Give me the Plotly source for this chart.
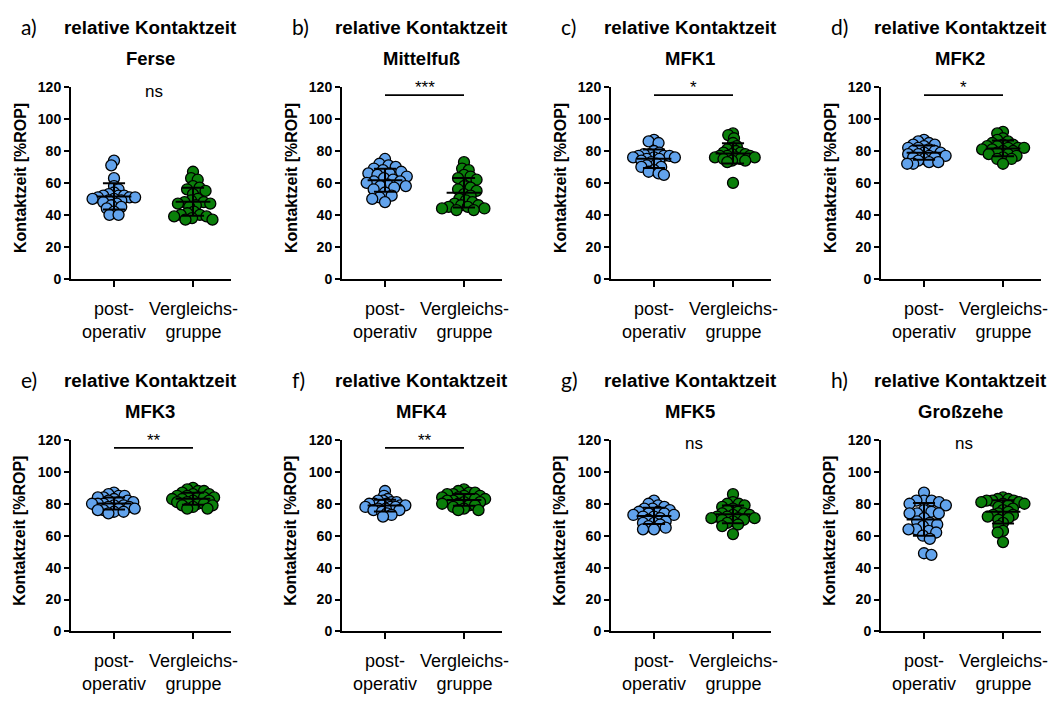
import numpy as np
import plotly.graph_objects as go

# ---------------- data ----------------
groups = ["post-<br>operativ", "Vergleichs-<br>gruppe"]
panel_letters = ["a)", "b)", "c)", "d)", "e)", "f)", "g)", "h)"]
panel_regions = ["Ferse", "Mittelfuß", "MFK1", "MFK2", "MFK3", "MFK4", "MFK5", "Großzehe"]
significance = ["ns", "***", "*", "*", "**", "**", "ns", "ns"]
y_ticks = [0, 20, 40, 60, 80, 100, 120]

ferse_post = [74, 71, 63, 58, 56, 54, 53, 52, 52, 52, 51, 51, 51, 50, 50, 49, 49, 48, 47, 46, 45, 44, 42, 40, 40]
ferse_vg = [67, 63, 62, 58, 57, 56, 55, 53, 50, 49, 48, 48, 47, 47, 46, 45, 42, 41, 40, 40, 39, 39, 38, 37, 37]
mittelfuss_post = [75, 72, 71, 70, 69, 68, 67, 66, 66, 65, 64, 63, 62, 61, 61, 60, 59, 58, 58, 57, 56, 54, 52, 51, 50, 48]
mittelfuss_vg = [73, 69, 68, 65, 64, 63, 62, 58, 57, 56, 55, 53, 52, 50, 49, 48, 47, 46, 46, 45, 45, 44, 44, 43, 43]
mfk1_post = [87, 86, 85, 80, 79, 78, 78, 77, 77, 77, 76, 76, 76, 75, 75, 74, 73, 72, 71, 70, 70, 68, 67, 66, 65]
mfk1_vg = [91, 90, 88, 85, 83, 82, 81, 80, 79, 79, 78, 78, 77, 77, 77, 76, 76, 76, 75, 75, 74, 74, 73, 60]
mfk2_post = [87, 86, 85, 84, 84, 83, 82, 82, 81, 80, 80, 79, 79, 78, 78, 77, 77, 76, 76, 75, 74, 73, 73, 72, 72]
mfk2_vg = [92, 91, 88, 87, 86, 85, 84, 84, 83, 83, 82, 82, 82, 81, 81, 80, 80, 79, 78, 78, 77, 76, 75, 75, 72]
mfk3_post = [87, 86, 85, 85, 84, 84, 83, 82, 82, 81, 81, 80, 80, 80, 79, 79, 78, 78, 77, 77, 76, 76, 75, 75, 74]
mfk3_vg = [90, 89, 88, 88, 87, 86, 86, 85, 85, 84, 84, 84, 83, 83, 82, 82, 81, 81, 80, 80, 79, 79, 78, 77, 77]
mfk4_post = [88, 85, 83, 82, 82, 81, 81, 80, 80, 80, 79, 79, 79, 78, 78, 78, 77, 77, 76, 76, 75, 74, 73, 72]
mfk4_vg = [89, 88, 87, 87, 86, 86, 85, 85, 84, 84, 83, 83, 83, 82, 82, 81, 81, 80, 80, 79, 79, 78, 77, 76, 76]
mfk5_post = [82, 80, 79, 78, 77, 77, 76, 75, 75, 74, 74, 73, 73, 72, 72, 71, 70, 69, 68, 68, 67, 66, 65, 64, 64]
mfk5_vg = [86, 81, 80, 80, 79, 78, 77, 76, 75, 74, 74, 73, 73, 72, 72, 71, 71, 71, 70, 70, 69, 68, 67, 66, 61]
grosszehe_post = [87, 82, 82, 82, 81, 80, 79, 76, 75, 74, 74, 74, 71, 69, 68, 67, 66, 64, 64, 63, 62, 60, 58, 49, 48]
grosszehe_vg = [84, 83, 83, 82, 82, 82, 81, 81, 80, 80, 79, 78, 77, 76, 75, 74, 73, 73, 72, 72, 71, 70, 68, 66, 63, 62, 56]

series_post = [ferse_post, mittelfuss_post, mfk1_post, mfk2_post, mfk3_post, mfk4_post, mfk5_post, grosszehe_post]
series_vg = [ferse_vg, mittelfuss_vg, mfk1_vg, mfk2_vg, mfk3_vg, mfk4_vg, mfk5_vg, grosszehe_vg]

# ---------------- layout geometry ----------------
W, H = 1061, 702
col_x0 = [71, 342, 611, 881]      # pixel x of each y-axis line
axis_len = 160
cat_offset = 43                   # px from y-axis to first category
cat_step = 79                     # px between categories
row_y0 = [277, 638]               # pixel y of value 0
row_y120 = [81, 442]              # pixel y of value 120
px_per_unit = (277 - 81) / 120.0
max_half_width = 22.0             # px, swarm half width

BLUE = "#62A3EC"
GREEN = "#0A7F0A"
FONT = "Liberation Sans, Arial, sans-serif"


def swarm_once(ys, d):
    order = np.argsort(-ys, kind="stable")
    placed = []
    xs = np.zeros(len(ys))
    for k, i in enumerate(order):
        y = ys[i]
        cands = [0.0]
        for (px, py) in placed:
            dy = abs(py - y)
            if dy < d:
                dx = np.sqrt(d * d - dy * dy)
                cands += [px + dx, px - dx]
        sgn = 1 if k % 2 else -1
        cands = sorted(cands, key=lambda c: (round(abs(c), 6), sgn * c))
        for c in cands:
            if all((c - px) ** 2 + (y - py) ** 2 >= d * d - 1e-6 for px, py in placed):
                xs[i] = c
                break
        placed.append((xs[i], y))
    return xs


def swarm(vals):
    ys = np.asarray(vals, dtype=float) * px_per_unit
    d = 9.0
    xs = swarm_once(ys, d)
    while np.max(np.abs(xs)) > max_half_width and d > 3:
        d -= 0.2
        xs = swarm_once(ys, d)
    return xs / cat_step


def px2paper_x(px):
    return px / W


def px2paper_y(py):
    return 1 - py / H


fig = go.Figure()
annotations = []
shapes = []

for p in range(8):
    row, col = divmod(p, 4)
    n = p + 1
    xa = "x" if n == 1 else f"x{n}"
    ya = "y" if n == 1 else f"y{n}"
    x0 = col_x0[col]
    x1 = x0 + axis_len
    yb, yt = row_y0[row], row_y120[row]

    fig.layout[f"xaxis{'' if n == 1 else n}"] = dict(
        domain=[px2paper_x(x0), px2paper_x(x1)], anchor=ya,
        range=[-cat_offset / cat_step, (axis_len - cat_offset) / cat_step],
        tickvals=[0, 1], showticklabels=False, ticks="outside", ticklen=6, tickwidth=2,
        tickcolor="black", showline=True, linecolor="black", linewidth=2,
        showgrid=False, zeroline=False, fixedrange=True,
    )
    fig.layout[f"yaxis{'' if n == 1 else n}"] = dict(
        domain=[px2paper_y(yb), px2paper_y(yt)], anchor=xa,
        range=[0, 120], tickvals=y_ticks, ticks="outside", ticklen=5, tickwidth=2,
        tickcolor="black", showline=True, linecolor="black", linewidth=2,
        showgrid=False, zeroline=False, fixedrange=True,
        tickfont=dict(family=FONT, size=14, color="black", weight="bold"),
    )

    for g, (vals, color) in enumerate([(series_post[p], BLUE), (series_vg[p], GREEN)]):
        vals = np.asarray(vals, dtype=float)
        xs = g + swarm(vals)
        fig.add_trace(go.Scatter(
            x=xs, y=vals, mode="markers", xaxis=xa, yaxis=ya, showlegend=False,
            cliponaxis=False,
            marker=dict(size=11, color=color, line=dict(color="black", width=1.3)),
            hoverinfo="y",
        ))
        m = vals.mean()
        s = vals.std(ddof=1)
        hw, cw = 0.22, 0.14
        ex = [g - hw, g + hw, None, g, g, None, g - cw, g + cw, None, g - cw, g + cw]
        ey = [m, m, None, m - s, m + s, None, m + s, m + s, None, m - s, m - s]
        fig.add_trace(go.Scatter(
            x=ex, y=ey, mode="lines", xaxis=xa, yaxis=ya, showlegend=False,
            line=dict(color="black", width=2), hoverinfo="skip", cliponaxis=False,
        ))
        annotations.append(dict(
            x=g, y=0, xref=xa, yref=f"{ya} domain", yanchor="top", xanchor="center",
            yshift=-18, text=groups[g], showarrow=False, align="center",
            font=dict(family=FONT, size=18, color="black"),
        ))

    # significance
    sig = significance[p]
    if sig == "ns":
        annotations.append(dict(x=0.5, y=117.5, xref=xa, yref=ya, text="ns", showarrow=False,
                                xanchor="center", yanchor="middle",
                                font=dict(family=FONT, size=17, color="black")))
    else:
        shapes.append(dict(type="line", xref=xa, yref=ya, x0=0, x1=1, y0=115, y1=115,
                           line=dict(color="black", width=1.6)))
        annotations.append(dict(x=0.5, y=115, xref=xa, yref=ya, text=sig, showarrow=False,
                                xanchor="center", yanchor="bottom", yshift=-4,
                                font=dict(family=FONT, size=17, color="black")))

    # titles
    cx = (x0 + x1) / 2 - 1
    title_y = 20 if row == 0 else 381
    sub_y = 52 if row == 0 else 413
    annotations.append(dict(x=px2paper_x(cx), y=px2paper_y(title_y), xref="paper", yref="paper",
                            text="<b>relative Kontaktzeit</b>", showarrow=False,
                            xanchor="center", yanchor="middle",
                            font=dict(family=FONT, size=18.8, color="black")))
    annotations.append(dict(x=px2paper_x(cx), y=px2paper_y(sub_y), xref="paper", yref="paper",
                            text=f"<b>{panel_regions[p]}</b>", showarrow=False,
                            xanchor="center", yanchor="middle",
                            font=dict(family=FONT, size=18.5, color="black")))
    annotations.append(dict(x=px2paper_x(x0 - 52), y=px2paper_y(title_y - 1), xref="paper", yref="paper",
                            text=panel_letters[p], showarrow=False,
                            xanchor="left", yanchor="middle",
                            font=dict(family="Lato, Open Sans, sans-serif", size=21, color="black")))
    # y axis title
    annotations.append(dict(x=px2paper_x(x0 - 51), y=px2paper_y((yb + yt) / 2 - 5), xref="paper", yref="paper",
                            text="<b>Kontaktzeit [%ROP]</b>", showarrow=False, textangle=-90,
                            xanchor="center", yanchor="middle",
                            font=dict(family=FONT, size=16, color="black")))

fig.update_layout(
    width=W, height=H, margin=dict(l=0, r=0, t=0, b=0),
    paper_bgcolor="white", plot_bgcolor="white",
    annotations=annotations, shapes=shapes,
    font=dict(family=FONT, color="black"),
)

fig.write_html("out.html")
